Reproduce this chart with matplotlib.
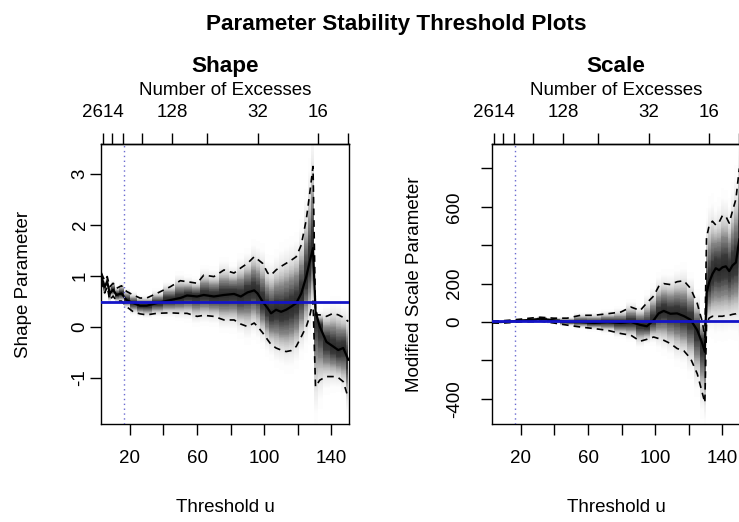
import numpy as np
import matplotlib.pyplot as plt

plt.rcParams['font.family'] = ['Liberation Sans', 'DejaVu Sans']

# ---- shape parameter by threshold
shape_u = [3, 5, 6.5, 8, 10, 12, 15, 18, 22, 26, 30, 36, 44, 50, 54, 60, 64, 70,
           76, 82, 86, 90, 94, 96, 99, 102, 104, 107, 110, 113, 116, 119, 122,
           125, 127, 129, 130.5, 133, 137, 141, 144, 147, 150]
shape_est = [0.98, 0.78, 0.88, 0.65, 0.72, 0.62, 0.65, 0.52, 0.46, 0.41, 0.41,
             0.46, 0.52, 0.56, 0.61, 0.59, 0.62, 0.59, 0.62, 0.64, 0.59, 0.67,
             0.71, 0.65, 0.49, 0.36, 0.26, 0.33, 0.29, 0.33, 0.39, 0.46, 0.65,
             0.98, 1.27, 1.54, 0.30, 0.0, -0.30, -0.39, -0.46, -0.42, -0.65]
shape_hi = [1.05, 0.90, 0.98, 0.78, 0.85, 0.75, 0.80, 0.69, 0.62, 0.56, 0.56,
            0.65, 0.78, 0.90, 0.88, 0.85, 1.01, 0.98, 1.11, 1.05, 1.15, 1.24,
            1.37, 1.32, 1.24, 1.05, 1.01, 1.11, 1.18, 1.24, 1.30, 1.37, 1.60,
            2.10, 2.60, 3.14, 0.23, 0.23, 0.20, 0.26, 0.23, 0.18, 0.10]
shape_lo = [0.90, 0.66, 0.78, 0.52, 0.60, 0.50, 0.50, 0.39, 0.29, 0.25, 0.23,
            0.26, 0.27, 0.26, 0.26, 0.20, 0.22, 0.20, 0.13, 0.13, 0.05, 0.0,
            0.07, 0.0, -0.12, -0.26, -0.35, -0.42, -0.46, -0.49, -0.47, -0.39,
            -0.20, 0.0, 0.20, 0.50, -1.18, -1.05, -0.98, -0.98, -1.00, -1.08,
            -1.40]
shape_fit = 0.49

# ---- modified scale parameter by threshold
scale_u = [3, 8, 14, 20, 27.5, 31.5, 39.5, 47.5, 55.5, 63.5, 71.5, 79.5, 85.5,
           91, 95, 99, 102, 105, 109, 113, 117, 121, 125, 128, 129.5, 130.5,
           132, 134, 136, 138, 140, 142, 144, 146, 148, 150]
scale_est = [0, 0, 3, 8, 12, 17, 9, 0, 0, -5, 0, -5, 0, -15, -22, 9, 45, 58,
             43, 45, 31, 12, -43, -112, -155, 150, 205, 250, 280, 270, 285, 290,
             265, 295, 310, 430]
scale_hi = [5, 6, 10, 15, 22, 25, 20, 20, 35, 35, 43, 52, 78, 60, 100, 135, 185,
            200, 195, 210, 215, 175, 96, 0, -80, 440, 500, 525, 505, 520, 555,
            550, 515, 580, 640, 800]
scale_lo = [-5, -6, -3, 1, 2, 5, -5, -16, -26, -34, -43, -60, -69, -100, -90,
            -78, -86, -95, -112, -138, -150, -190, -270, -370, -420, -10, 20,
            30, 26, 30, 30, 35, 35, 40, 43, 52]
scale_fit = 5

u_chosen = 16.7
bottom_ticks = [20, 40, 60, 80, 100, 120, 140]
bottom_labels = ['20', '', '60', '', '100', '', '140']
top_ticks = [3.7, 9.2, 16.0, 27.2, 45.0, 66.0, 96.0, 132.2, 150.1]
top_labels = ['2614', '', '', '', '128', '', '32', '16', '']

FS = 13.5
TFS = 16.2


def shade(ax, u, est, lo, hi):
    # stacked translucent bands -> soft gradient around the estimate
    u = np.asarray(u, float)
    est = np.asarray(est, float)
    s_hi = (np.asarray(hi, float) - est) / 1.96
    s_lo = (est - np.asarray(lo, float)) / 1.96
    n = 90
    zs = np.linspace(0, 3.0, n + 1)[1:]
    zmid = zs - (zs[1] - zs[0]) / 2
    trans = 1 - 0.72 * np.exp(-0.5 * (zmid / 1.0) ** 2)
    trans = np.append(trans, 1.0)
    alphas = 1 - trans[:-1] / trans[1:]
    for z, a in zip(zs, alphas):
        ax.fill_between(u, est - z * s_lo, est + z * s_hi, step='mid',
                        color='black', alpha=a, lw=0, zorder=1)


def panel(ax, u, est, lo, hi, fit, ylim, yticks, ylabels, ylab, title, ypad):
    shade(ax, u, est, lo, hi)
    ax.plot(u, hi, color='black', lw=1.2, ls=(0, (4, 3)), zorder=3)
    ax.plot(u, lo, color='black', lw=1.2, ls=(0, (4, 3)), zorder=3)
    ax.plot(u, est, color='black', lw=1.6, zorder=4)
    ax.axvline(u_chosen, color='#6a6ad0', lw=1.0, ls=(0, (1, 2.5)), zorder=5)
    ax.axhline(fit, color='#1414c8', lw=2.0, zorder=6)

    ax.set_xlim(2.8, 150.6)
    ax.set_ylim(*ylim)
    ax.set_xticks(bottom_ticks, labels=bottom_labels)
    ax.set_yticks(yticks, labels=ylabels)
    ax.tick_params(axis='x', direction='out', length=8, width=1, pad=11,
                   labelsize=FS)
    ax.tick_params(axis='y', direction='out', length=8, width=1, pad=ypad,
                   labelsize=FS, labelrotation=90)
    for t in ax.get_yticklabels():
        t.set_va('center')
    for sp in ax.spines.values():
        sp.set_linewidth(1.0)

    sec = ax.secondary_xaxis('top')
    sec.set_xticks(top_ticks, labels=top_labels)
    sec.tick_params(direction='out', length=8, width=1, pad=8.4, labelsize=FS)
    sec.spines['top'].set_linewidth(1.0)

    ax.set_xlabel('Threshold u', fontsize=FS)
    ax.xaxis.set_label_coords(0.5, -0.268)
    ax.set_ylabel(ylab, fontsize=FS)
    ax.yaxis.set_label_coords(-0.277, 0.5)

    ax.text(0.5, 1.176, 'Number of Excesses', transform=ax.transAxes,
            ha='center', va='baseline', fontsize=FS)
    ax.text(0.5, 1.257, title, transform=ax.transAxes, ha='center',
            va='baseline', fontsize=TFS, fontweight='bold')


fig = plt.figure(figsize=(7.39, 5.22), dpi=100)
ax1 = fig.add_axes([101 / 739, 98 / 522, 248.3 / 739, 280 / 522])
ax2 = fig.add_axes([492 / 739, 98 / 522, 248.3 / 739, 280 / 522])

panel(ax1, shape_u, shape_est, shape_lo, shape_hi, shape_fit,
      (-1.91, 3.58), [-1, 0, 1, 2, 3], ['-1', '0', '1', '2', '3'],
      'Shape Parameter', 'Shape', 1.0)
panel(ax2, scale_u, scale_est, scale_lo, scale_hi, scale_fit,
      (-531, 927), [-400, -200, 0, 200, 400, 600, 800],
      ['-400', '', '0', '200', '', '600', ''],
      'Modified Scale Parameter', 'Scale', 13.0)

fig.text(396 / 739, (522 - 30) / 522, 'Parameter Stability Threshold Plots',
         ha='center', va='baseline', fontsize=TFS, fontweight='bold')

fig.savefig('out.png', dpi=100)
